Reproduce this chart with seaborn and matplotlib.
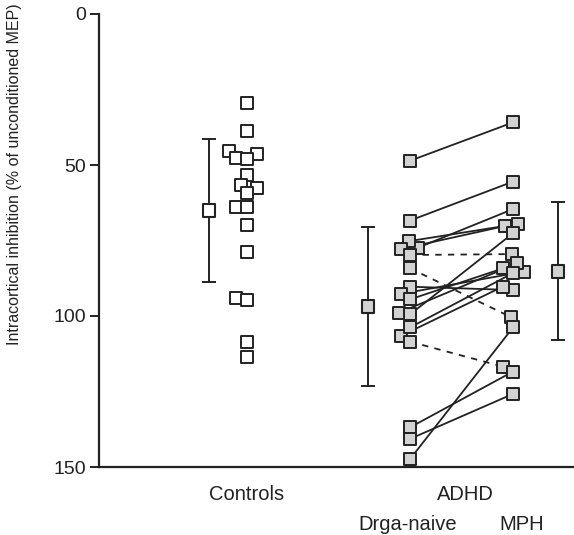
import numpy as np
import pandas as pd
import matplotlib
matplotlib.use("Agg")
import matplotlib.pyplot as plt
import seaborn as sns

sns.set_style("ticks")
plt.rcParams["font.family"] = ["Liberation Sans", "DejaVu Sans"]

# values (% of unconditioned MEP)
controls = [29.6, 38.8, 45.3, 46.4, 47.8, 48.1, 53.3, 56.6, 57.7, 59.4,
            64.0, 64.0, 69.9, 78.7, 94.2, 94.7, 108.5, 113.7]
# ADHD pairs: drug-naive -> MPH, same order
naive = [48.6, 68.4, 77.4, 75.2, 77.8, 79.8, 84.2, 90.3, 106.6, 92.7,
         94.5, 98.9, 103.8, 99.5, 108.5, 136.9, 140.7, 147.4]
mph = [35.9, 55.5, 64.6, 69.5, 70.2, 79.5, 100.4, 91.4, 90.3, 85.3,
       84.2, 82.6, 85.8, 72.6, 116.8, 118.4, 125.8, 103.8]
dashed = [False, False, False, False, False, True, True, False, False, False,
          False, False, False, False, True, False, False, False]
group_mean = [65.0, 96.9, 85.2]
group_sd = [23.7, 26.4, 22.9]
yticks = [0, 50, 100, 150]

# layout on the x axis
x_controls, x_naive, x_mph = 1.48, 3.11, 4.14
x_means = [1.10, 2.69, 4.59]
x_adhd = 3.66

ink = "#222222"
grey = "#d2d2d2"

fig = plt.figure(figsize=(5.74, 5.35), dpi=100)
ax = fig.add_axes([99 / 574, 68 / 535, 475 / 574, 453 / 535])

# let seaborn's beeswarm spread the points, then freeze those positions
columns = [(controls, x_controls, "white"), (naive, x_naive, grey), (mph, x_mph, grey)]
swarms = []
for vals, xpos, face in columns:
    d = pd.DataFrame({"x": [xpos] * len(vals), "y": vals})
    sns.swarmplot(data=d, x="x", y="y", native_scale=True, orient="x",
                  size=7.5, ax=ax)
    swarms.append(ax.collections[-1])
ax.set_xlim(0, 4.75)
ax.set_ylim(150, 0)
fig.canvas.draw()
pos = [c.get_offsets().copy() for c in swarms]
for c in swarms:
    c.remove()

# paired lines
for i in range(len(naive)):
    ax.plot([pos[1][i, 0], pos[2][i, 0]], [pos[1][i, 1], pos[2][i, 1]],
            color=ink, lw=1.3, ls=(0, (3.5, 3.5)) if dashed[i] else "-",
            zorder=2)

for p, (vals, xpos, face) in zip(pos, columns):
    sns.scatterplot(x=p[:, 0], y=p[:, 1], marker="s", s=72, color=face,
                    edgecolor=ink, linewidth=1.4, zorder=3, ax=ax)

# mean +/- SD
ax.errorbar(x_means, group_mean, yerr=group_sd, fmt="none", ecolor=ink,
            elinewidth=1.4, capsize=5, capthick=1.4, zorder=2)
sns.scatterplot(x=x_means, y=group_mean, marker="s", s=80,
                color=["white", grey, grey], edgecolor=ink, linewidth=1.5,
                zorder=3, ax=ax)

ax.set_xlim(0, 4.75)
ax.set_ylim(150, 0)
sns.despine(ax=ax)
for s in ["left", "bottom"]:
    ax.spines[s].set_linewidth(1.6)
    ax.spines[s].set_color(ink)

ax.set_yticks(yticks)
ax.set_yticklabels([str(t) for t in yticks])
ax.tick_params(axis="y", length=6.5, width=1.4, color=ink, labelsize=14,
               labelcolor=ink, pad=3)
ax.set_xticks([x_controls, x_adhd])
ax.set_xticklabels(["Controls", "ADHD"])
ax.tick_params(axis="x", length=0, labelsize=14.5, labelcolor=ink, pad=13)

ax.text(x_naive - 0.02, -0.127, "Drga-naive", transform=ax.get_xaxis_transform(),
        ha="center", va="center", fontsize=14.5, color=ink)
ax.text(x_mph + 0.09, -0.127, "MPH", transform=ax.get_xaxis_transform(),
        ha="center", va="center", fontsize=14.5, color=ink)

ax.set_xlabel("")
ax.set_ylabel("Intracortical inhibition (% of unconditioned MEP)",
              fontsize=11.5, color=ink)
ax.yaxis.set_label_coords(-0.163, 0.647)

fig.savefig("out.png", dpi=100)
